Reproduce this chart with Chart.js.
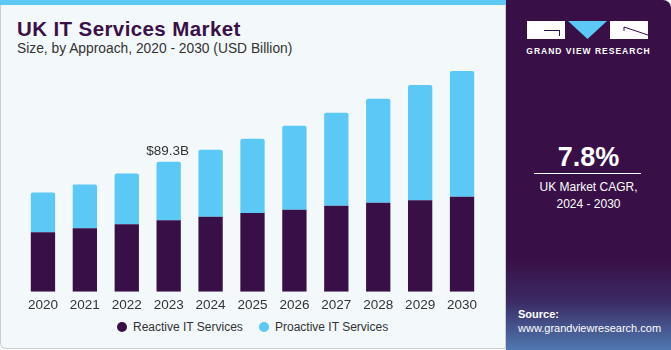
<!DOCTYPE html>
<html>
<head>
  <title>UK IT Services Market</title>
  <style>
    body { margin: 0; width: 671px; height: 350px; overflow: hidden; background: #fff; font-family: "Liberation Sans", Arial, sans-serif; }
    #left {
      position: absolute; left: 0; top: 0; width: 504px; height: 348px;
      background: #f3f8fb; border: 1px solid #c9ced3; border-top: none;
      border-radius: 0 0 0 6px;
    }
    #stripe { position: absolute; left: 0; top: 0; width: 506px; height: 5px; background: #5bc8f5; }
    #title { position: absolute; left: 17px; top: 17px; font-size: 20.5px; font-weight: 900; color: #3a1048; letter-spacing: 0.4px; }
    #subtitle { position: absolute; left: 17px; top: 41px; font-size: 13.8px; color: #333; }
    #chartBox { position: absolute; left: 0; top: 0; width: 505px; height: 310px; }
    #legend { position: absolute; left: 0; top: 320px; width: 505px; font-size: 12px; color: #333; }
    .item { position: absolute; top: 0; white-space: nowrap; }
    .dot { display: inline-block; width: 10px; height: 10px; border-radius: 50%; vertical-align: -1px; margin-right: 6px; }
    #right {
      position: absolute; left: 506px; top: 0; width: 165px; height: 350px;
      border-radius: 0 8px 0 0;
      background: linear-gradient(to bottom, #381047 0%, #381047 74%, #3b2a63 86%, #4f78b0 100%);
      color: #fff; text-align: center;
    }
    .blk { position: absolute; background: #fff; }
    #logoText { position: absolute; left: 0; width: 165px; top: 46px; font-size: 8.5px; font-weight: bold; letter-spacing: 1px; }
    #cagr { position: absolute; left: 0; width: 165px; top: 142px; font-size: 27px; font-weight: bold; }
    #rule { position: absolute; left: 28px; width: 107px; top: 173px; height: 1px; background: #fff; }
    #cagrText { position: absolute; left: 0; width: 165px; top: 179px; font-size: 12px; line-height: 17px; }
    #source { position: absolute; left: 12px; top: 307px; font-size: 11px; line-height: 14px; text-align: left; }
  </style>
  <script src="https://cdn.jsdelivr.net/npm/chart.js"></script>
</head>
<body>
  <div id="left"></div>
  <div id="stripe"></div>
  <div id="title">UK IT Services Market</div>
  <div id="subtitle">Size, by Approach, 2020 - 2030 (USD Billion)</div>
  <div id="chartBox"><canvas id="chart"></canvas></div>
  <div id="legend"></div>

  <div id="right">
    <div class="blk" style="left:21px; top:21px; width:38px; height:18px;"></div>
    <div style="position:absolute; left:38px; top:30px; width:16px; height:1px; background:#381047;"></div>
    <div style="position:absolute; left:53px; top:30px; width:1px; height:6px; background:#381047;"></div>
    <svg style="position:absolute; left:62px; top:21px;" width="40" height="19">
      <polygon points="0,0 39,0 19.5,18" fill="#5bc8f5"></polygon>
    </svg>
    <div class="blk" style="left:104px; top:21px; width:38px; height:18px;"></div>
    <svg style="position:absolute; left:104px; top:21px;" width="38" height="18">
      <line x1="14" y1="6" x2="38" y2="14" stroke="#381047" stroke-width="1"></line>
      <line x1="14" y1="6" x2="14" y2="10" stroke="#381047" stroke-width="1"></line>
    </svg>
    <div id="logoText">GRAND VIEW RESEARCH</div>
    <div id="cagr">7.8%</div>
    <div id="rule"></div>
    <div id="cagrText">UK Market CAGR,<br>2024 - 2030</div>
    <div id="source"><b>Source:</b><br>www.grandviewresearch.com</div>
  </div>

  <script>
    const years = ['2020', '2021', '2022', '2023', '2024', '2025', '2026', '2027', '2028', '2029', '2030'];
    const reactive = [41.0, 43.7, 46.5, 49.2, 51.5, 54.2, 56.4, 59.2, 61.2, 62.9, 65.3];
    const proactive = [27.3, 30.1, 34.8, 40.1, 46.2, 51.0, 57.7, 63.8, 71.4, 79.2, 86.4];
    const labelIndex = 3;
    const labelText = '$89.3B';

    // writes the total above one bar
    const totalLabel = {
      id: 'totalLabel',
      afterDatasetsDraw(chart) {
        const ctx = chart.ctx;
        const x = chart.scales.x.getPixelForValue(labelIndex);
        const y = chart.scales.y.getPixelForValue(reactive[labelIndex] + proactive[labelIndex]);
        ctx.save();
        ctx.font = '13.5px "Liberation Sans", Arial, sans-serif';
        ctx.fillStyle = '#333';
        ctx.textAlign = 'center';
        ctx.textBaseline = 'bottom';
        ctx.fillText(labelText, x - 1, y - 4);
        ctx.restore();
      }
    };

    const chart = new Chart(document.getElementById('chart'), {
      type: 'bar',
      data: {
        labels: years,
        datasets: [
          { label: 'Reactive IT Services', data: reactive, backgroundColor: '#381047' },
          { label: 'Proactive IT Services', data: proactive, backgroundColor: '#5bc8f5',
            borderRadius: { topLeft: 2, topRight: 2 }, borderSkipped: 'bottom' }
        ]
      },
      options: {
        responsive: true,
        maintainAspectRatio: false,
        animation: false,
        layout: { padding: { left: 22, right: 22, top: 59, bottom: 0 } },
        datasets: { bar: { barPercentage: 0.58, categoryPercentage: 1.0 } },
        scales: {
          x: {
            stacked: true,
            grid: { display: false },
            border: { display: false },
            ticks: { color: '#333', font: { size: 13.5, family: '"Liberation Sans", Arial, sans-serif' }, padding: -3 }
          },
          y: { stacked: true, display: false, min: 0, max: 160 }
        },
        plugins: {
          legend: { display: false },
          tooltip: { enabled: false }
        }
      },
      plugins: [totalLabel]
    });

    // html legend from the dataset list
    const legendPos = [117, 259];
    chart.data.datasets.forEach((ds, i) => {
      const el = document.createElement('div');
      el.className = 'item';
      el.style.left = legendPos[i] + 'px';
      el.innerHTML = '<span class="dot" style="background:' + ds.backgroundColor + '"></span>' + ds.label;
      document.getElementById('legend').appendChild(el);
    });
  </script>
</body>
</html>
